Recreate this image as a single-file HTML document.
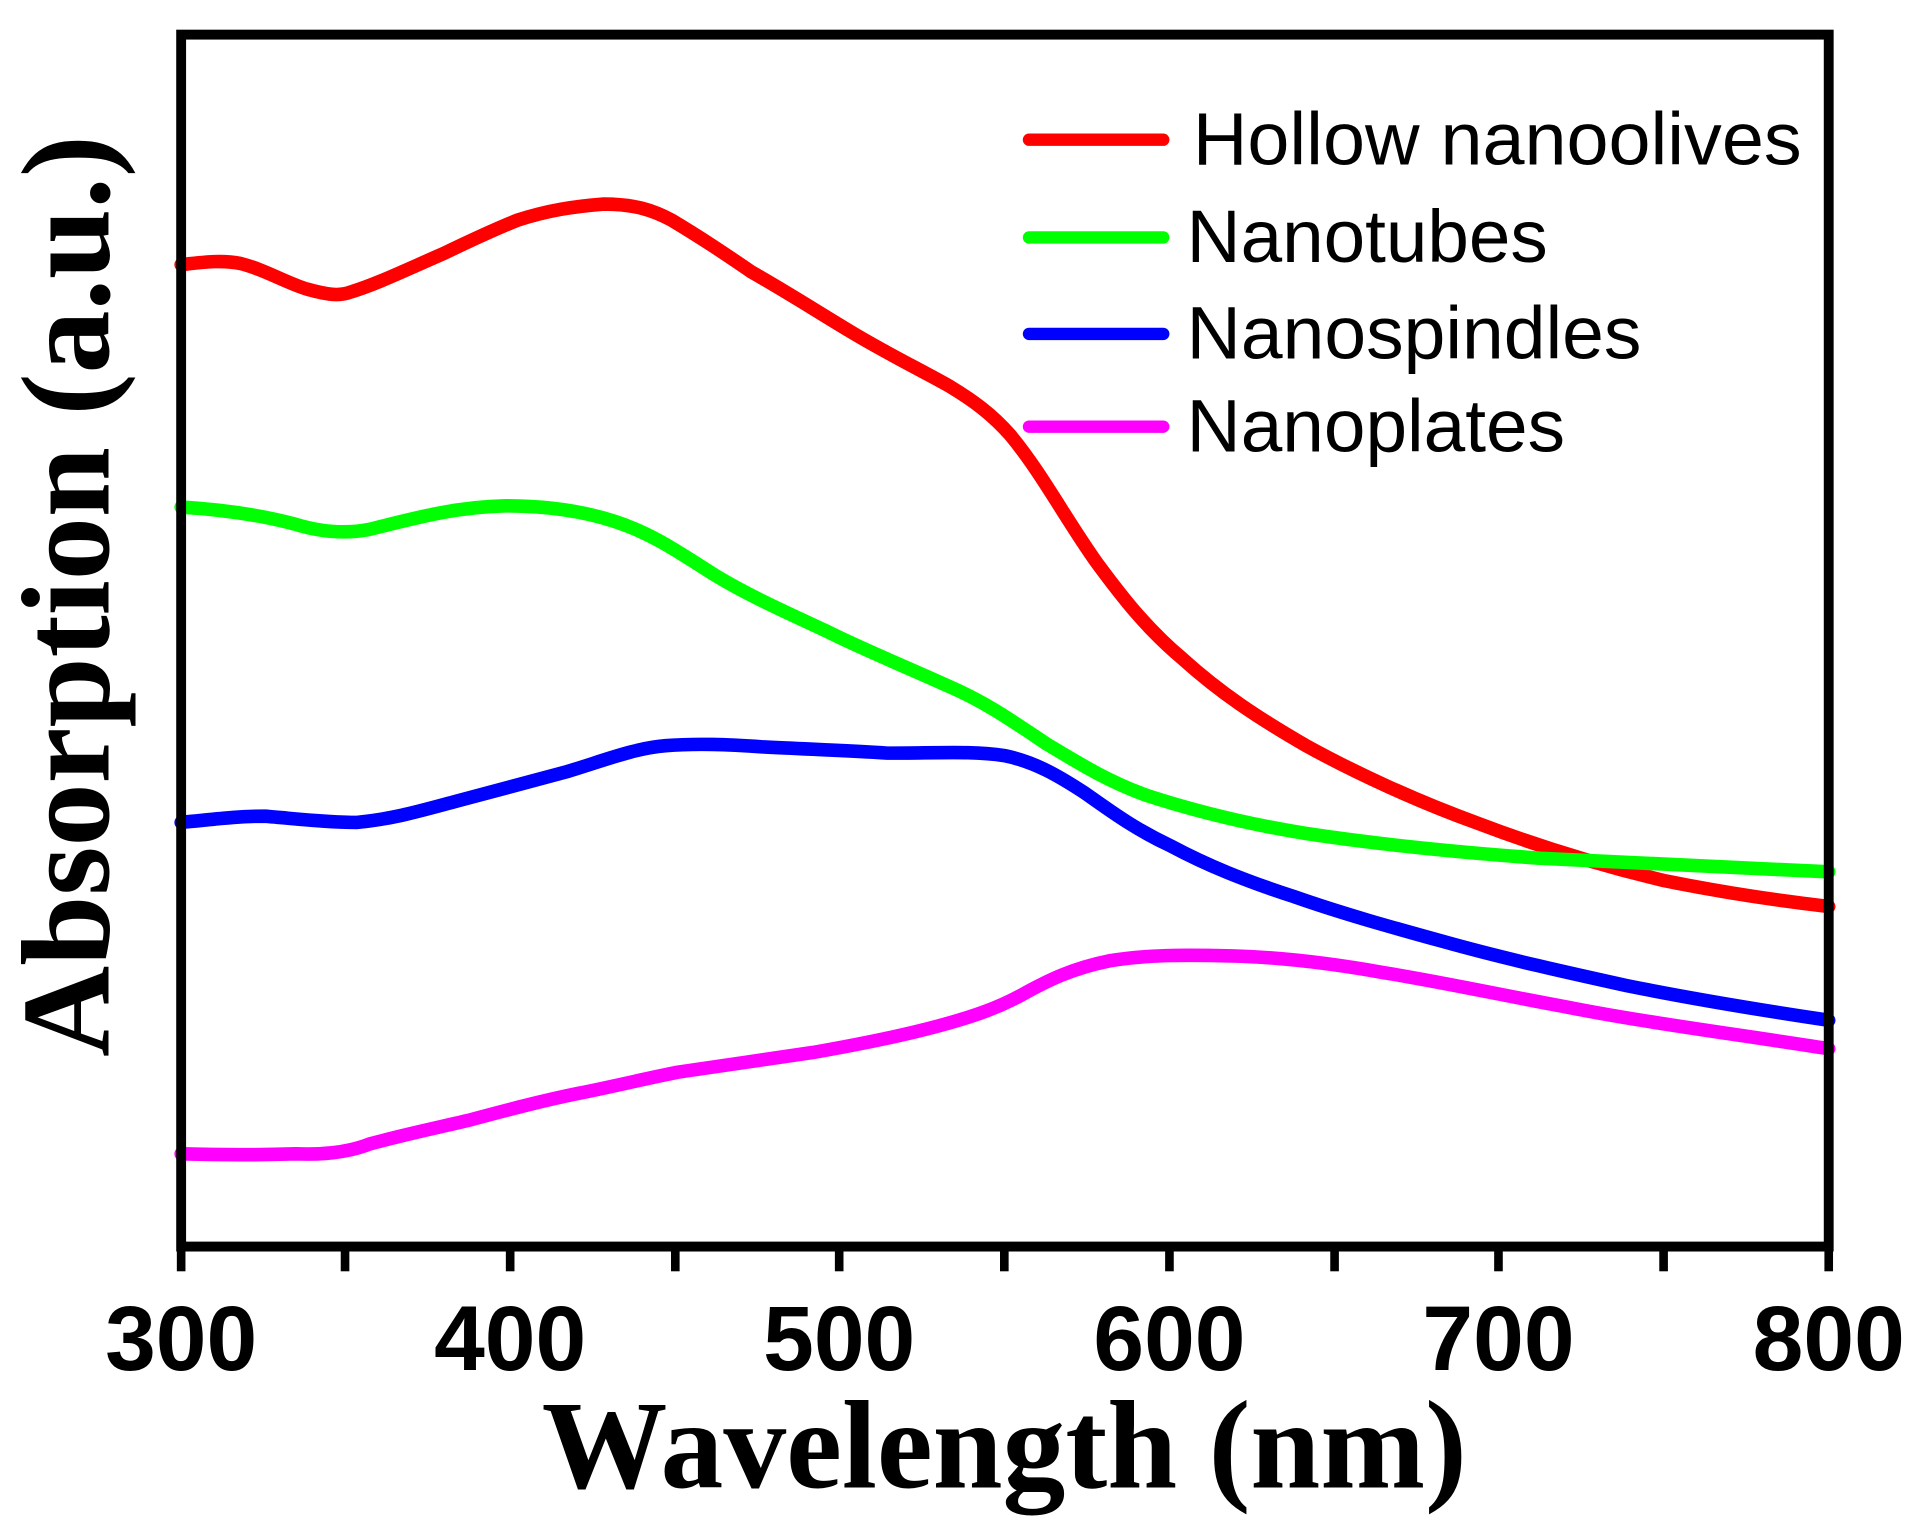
<!DOCTYPE html>
<html><head><style>html,body{margin:0;padding:0;background:#fff;}svg{display:block}</style></head>
<body>
<svg width="1931" height="1531" viewBox="0 0 1567 1238" preserveAspectRatio="none" xmlns="http://www.w3.org/2000/svg">
<rect width="1567" height="1238" fill="#fff"/>
<g fill="none" stroke-linecap="round" stroke-linejoin="round" stroke-width="11">
<path stroke="#ff0000" d="M147,214 C165,212 180,210 195,213 C215,218 235,230 250,234 C265,238 275,240 285,236 C305,230 330,218 360,205 C385,193 400,186 420,178 C445,170 465,167 490,165 C515,165 530,170 545,178 C570,193 585,203 610,220 C640,237 660,250 690,268 C720,286 745,298 770,312 C790,324 805,335 820,352 C845,382 865,420 890,455 C910,482 930,508 960,533 C990,560 1020,580 1060,603 C1100,625 1150,648 1200,666 C1250,685 1300,700 1350,712 C1400,722 1440,728 1484,733"/>
<path stroke="#00ff00" d="M147,410 C180,412 210,416 240,424 C260,430 280,432 300,428 C340,418 370,410 410,409 C440,409 470,412 500,422 C530,432 550,446 580,465 C610,483 640,496 670,510 C700,525 730,537 770,555 C800,568 820,582 850,602 C880,620 900,632 930,643 C970,656 1010,666 1060,674 C1120,683 1180,689 1250,694 C1320,698 1400,701 1484,705"/>
<path stroke="#0000ff" d="M147,665 C170,663 190,660 215,660 C240,662 265,665 290,665 C320,662 340,656 370,648 C400,640 430,632 460,624 C490,615 515,605 540,603 C565,601 590,602 620,604 C660,606 690,607 720,609 C760,609 790,607 815,611 C840,616 860,628 880,641 C900,655 920,670 950,684 C980,700 1010,712 1050,725 C1090,739 1130,750 1170,761 C1220,775 1270,786 1320,797 C1380,809 1430,817 1484,825"/>
<path stroke="#ff00ff" d="M147,933 C180,934 210,934 240,933 C265,934 285,931 300,925 C330,917 350,913 380,906 C410,898 440,890 470,884 C500,878 520,873 550,867 C590,861 620,857 660,851 C700,844 730,838 760,830 C790,822 810,815 830,804 C850,793 870,783 900,777 C930,772 960,772 1000,773 C1040,774 1080,779 1120,786 C1170,794 1220,805 1270,814 C1330,826 1400,835 1484,848"/>
</g>
<rect x="147" y="28" width="1337" height="980" fill="none" stroke="#000" stroke-width="8"/>
<g stroke="#000" stroke-width="7">
<line x1="147" y1="1008" x2="147" y2="1028"/><line x1="280" y1="1008" x2="280" y2="1028"/>
<line x1="414" y1="1008" x2="414" y2="1028"/><line x1="548" y1="1008" x2="548" y2="1028"/>
<line x1="681" y1="1008" x2="681" y2="1028"/><line x1="815" y1="1008" x2="815" y2="1028"/>
<line x1="949" y1="1008" x2="949" y2="1028"/><line x1="1083" y1="1008" x2="1083" y2="1028"/>
<line x1="1216" y1="1008" x2="1216" y2="1028"/><line x1="1350" y1="1008" x2="1350" y2="1028"/>
<line x1="1484" y1="1008" x2="1484" y2="1028"/>
</g>
<g font-family="Liberation Sans, sans-serif" font-weight="bold" font-size="74" text-anchor="middle" fill="#000">
<text x="147" y="1108">300</text><text x="414" y="1108">400</text><text x="681" y="1108">500</text>
<text x="949" y="1108">600</text><text x="1216" y="1108">700</text><text x="1484" y="1108">800</text>
</g>
<text x="815" y="1203" font-family="Liberation Serif, serif" font-weight="bold" font-size="102" text-anchor="middle">Wavelength (nm)</text>
<text transform="translate(88,482) rotate(-90)" font-family="Liberation Serif, serif" font-weight="bold" font-size="102" text-anchor="middle">Absorption (a.u.)</text>
<g stroke-width="10" stroke-linecap="round">
<line x1="835" y1="113" x2="944" y2="113" stroke="#ff0000"/>
<line x1="835" y1="192" x2="944" y2="192" stroke="#00ff00"/>
<line x1="835" y1="270" x2="944" y2="270" stroke="#0000ff"/>
<line x1="835" y1="345" x2="944" y2="345" stroke="#ff00ff"/>
</g>
<g font-family="Liberation Sans, sans-serif" font-size="60" fill="#000">
<text x="968" y="133" textLength="494" lengthAdjust="spacingAndGlyphs">Hollow nanoolives</text>
<text x="963" y="212" textLength="293" lengthAdjust="spacingAndGlyphs">Nanotubes</text>
<text x="963" y="290" textLength="369" lengthAdjust="spacingAndGlyphs">Nanospindles</text>
<text x="963" y="365" textLength="307" lengthAdjust="spacingAndGlyphs">Nanoplates</text>
</g>
</svg>
</body></html>
